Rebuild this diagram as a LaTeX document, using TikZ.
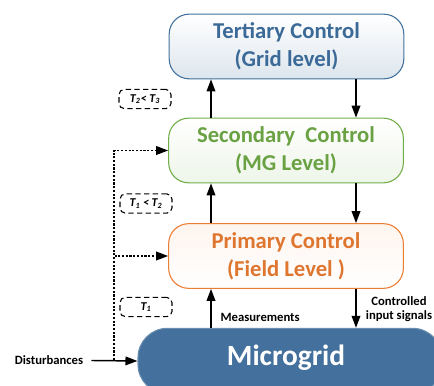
\documentclass[tikz,border=0pt]{standalone}
\usepackage{fontspec}
\setmainfont{Carlito}
\usetikzlibrary{arrows.meta}
\definecolor{tertblue}{HTML}{41719C}
\definecolor{terttext}{HTML}{3C6A98}
\definecolor{secgreen}{HTML}{70AD47}
\definecolor{sectext}{HTML}{6AA243}
\definecolor{primorange}{HTML}{ED7D31}
\definecolor{primtext}{HTML}{DE7630}
\definecolor{gridblue}{HTML}{43709C}
\tikzset{
  level/.style={draw, rounded corners=15pt, line width=0.8pt, align=center,
    minimum width=176pt, minimum height=48.5pt, font=\fontsize{17}{21}\selectfont\bfseries},
  arr/.style={-{Triangle[length=9pt,width=6.5pt]}, line width=1.1pt},
  dotarr/.style={-{Triangle[length=9pt,width=6.5pt]}, line width=1.1pt, dash pattern=on 1.6pt off 1.2pt},
  tbox/.style={draw, dash pattern=on 4pt off 2.5pt, rounded corners=4pt, line width=0.8pt, minimum width=39pt,
    minimum height=14.5pt, inner sep=1pt, font=\fontsize{9}{10}\selectfont\bfseries\itshape},
  small/.style={font=\fontsize{9.5}{11}\selectfont\bfseries, align=center, inner sep=1pt}
}
\begin{document}
\begin{tikzpicture}[x=0.75pt, y=-0.75pt]
  \useasboundingbox (0,0) rectangle (434,385);

  \node[level, draw=tertblue, text=terttext, top color=white, bottom color=tertblue!18] (tc) at (286.5, 46.5) {Tertiary Control\\(Grid level)};
  \node[level, draw=secgreen, text=sectext, top color=white, bottom color=secgreen!12] (sc) at (286, 150.5) {Secondary~ Control\\(MG Level)};
  \node[level, draw=primorange, text=primtext, top color=primorange!8, bottom color=white] (pc) at (286, 256) {Primary Control\\(Field Level )};
  \node[draw=gridblue!80!white, fill=gridblue, text=white, rounded corners=22pt, line width=0.8pt,
    minimum width=228pt, minimum height=49pt] (mg) at (290, 361) {};
  \node[text=white, font=\fontsize{22}{26}\selectfont\bfseries] (mgtext) at (286, 358) {Microgrid};

  \coordinate (upx) at (211, 0);
  \coordinate (dnx) at (356, 0);

  % control loops between the levels
  \draw[arr] (sc.north -| upx) -- (tc.south -| upx);
  \draw[arr] (tc.south -| dnx) -- (sc.north -| dnx);
  \draw[arr] (pc.north -| upx) -- (sc.south -| upx);
  \draw[arr] (sc.south -| dnx) -- (pc.north -| dnx);
  \draw[arr] (mg.north -| upx) -- (pc.south -| upx);
  \draw[arr] (pc.south -| dnx) -- (mg.north -| dnx);

  \node[small, anchor=west] (meas) at (219, 317) {Measurements};
  \node[small] (ctrl) at (399, 309) {Controlled\\input signals};

  % disturbances
  \node[small] (dist) at (49, 360) {Disturbances};
  \coordinate (tap) at (114, 360);
  \draw[arr, shorten <=5pt] (dist) -- (mg.west);
  \draw[dotarr] (tap) |- (sc.west);
  \draw[dotarr] (tap) |- (pc.west);

  \node[tbox] (t23) at (145, 99) {T\textsubscript{2}< T\textsubscript{3}};
  \node[tbox] (t12) at (146, 203.5) {T\textsubscript{1} < T\textsubscript{2}};
  \node[tbox] (t1) at (146, 307) {T\textsubscript{1}};
\end{tikzpicture}
\end{document}
